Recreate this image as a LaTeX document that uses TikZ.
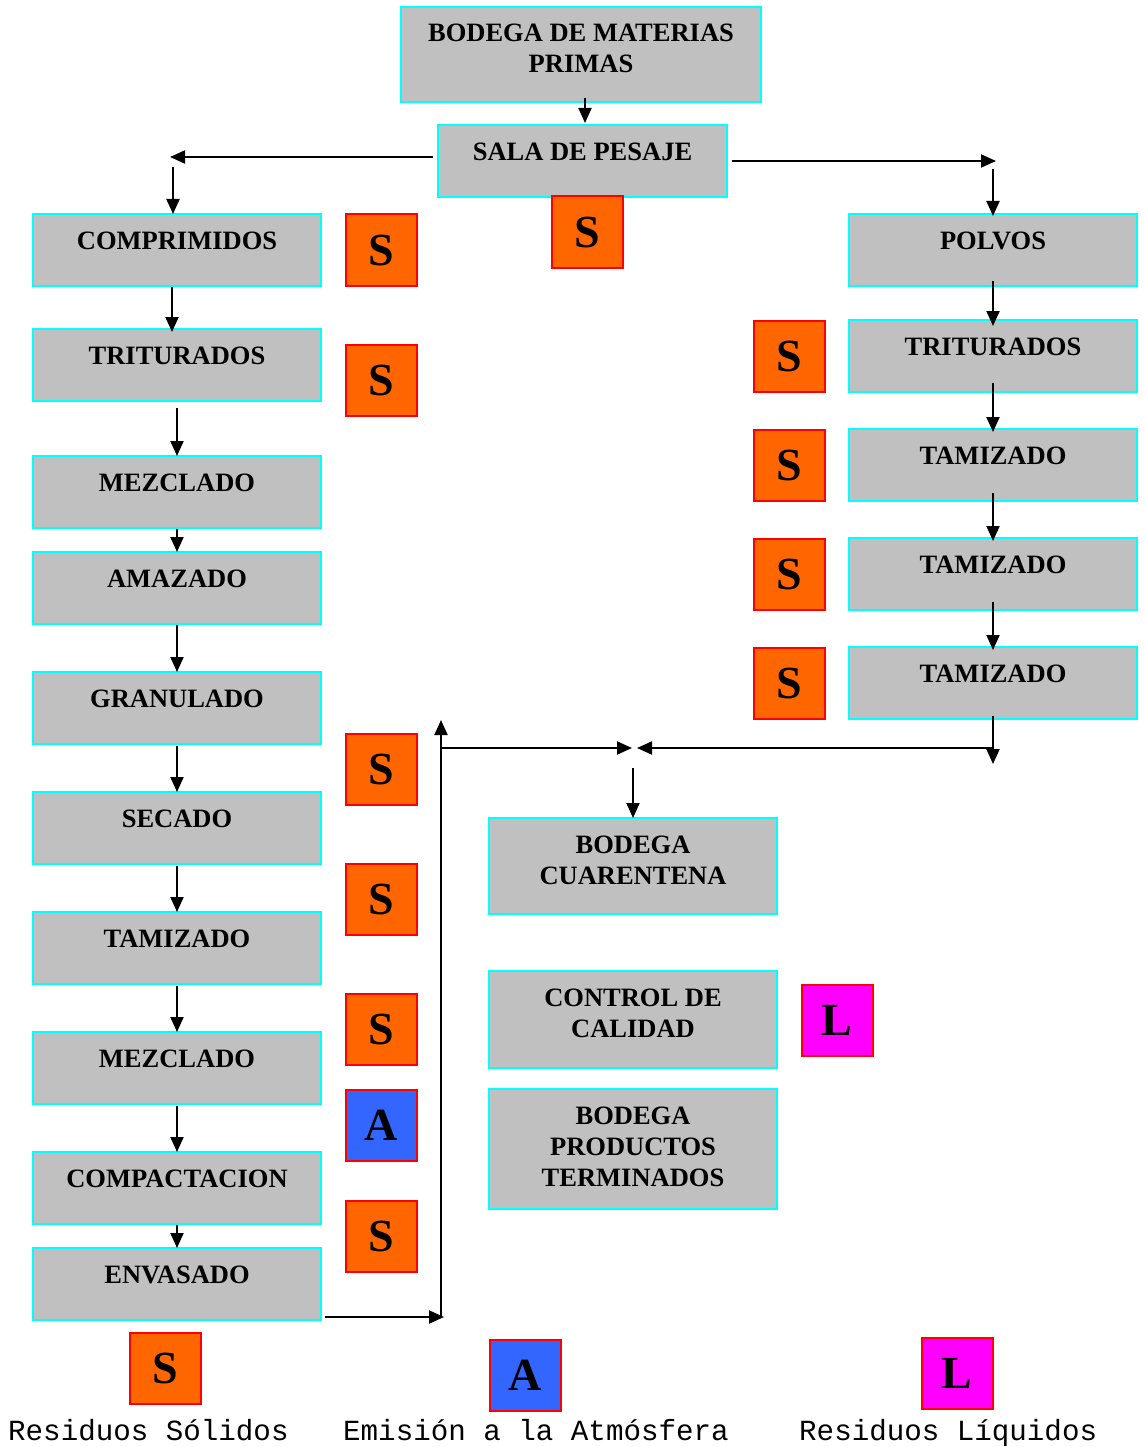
\documentclass[tikz,border=0pt]{standalone}
\usepackage{fontspec}
\setmainfont{Liberation Serif}
\setmonofont{Liberation Mono}
\usetikzlibrary{arrows.meta}

\definecolor{boxgray}{HTML}{C0C0C0}
\definecolor{boxcyan}{HTML}{00FFFF}
\definecolor{solido}{HTML}{FF6600}
\definecolor{aire}{HTML}{3366FF}
\definecolor{liquido}{HTML}{FF00FF}

\tikzset{
  box/.style 2 args={draw=boxcyan, fill=boxgray, line width=2pt,
    minimum width=#1, minimum height=#2, inner sep=0pt, outer sep=0pt,
    anchor=north west},
  btxt/.style={font=\bfseries\fontsize{26.5pt}{31pt}\selectfont,
    align=center, anchor=north, inner sep=0pt},
  tag/.style={draw=red, line width=2pt, fill=#1, minimum size=71pt,
    inner sep=0pt, outer sep=0pt, anchor=north west,
    font=\bfseries\fontsize{46pt}{46pt}\selectfont},
  legtxt/.style={font=\ttfamily\fontsize{29.2pt}{32pt}\selectfont,
    anchor=base west, inner sep=0pt},
  flow/.style={line width=2pt, -{Triangle[length=15pt,width=13pt]}}
}

\begin{document}
\begin{tikzpicture}[x=1pt,y=-1pt]
\useasboundingbox (0,0) rectangle (1144,1447);

% ---- top: raw material store and weighing room
\node[box={360pt}{95pt}] (mat) at (401,7) {};
\node[btxt] (mat-t) at ([yshift=-17pt]mat.north) {BODEGA DE MATERIAS\\PRIMAS};
\node[box={289pt}{72pt}] (sala) at (438,125) {};
\node[btxt] (sala-t) at ([yshift=-18pt]sala.north) {SALA DE PESAJE};

% ---- left line: tablets
\node[box={288pt}{72pt}] (comp)   at (33,214)  {};
\node[box={288pt}{72pt}] (trit)   at (33,329)  {};
\node[box={288pt}{72pt}] (mez1)   at (33,456)  {};
\node[box={288pt}{72pt}] (amaz)   at (33,552)  {};
\node[box={288pt}{72pt}] (gran)   at (33,672)  {};
\node[box={288pt}{72pt}] (sec)    at (33,792)  {};
\node[box={288pt}{72pt}] (tam)    at (33,912)  {};
\node[box={288pt}{72pt}] (mez2)   at (33,1032) {};
\node[box={288pt}{72pt}] (compac) at (33,1152) {};
\node[box={288pt}{72pt}] (env)    at (33,1248) {};
\node[btxt] (comp-t)   at ([yshift=-18pt]comp.north)   {COMPRIMIDOS};
\node[btxt] (trit-t)   at ([yshift=-18pt]trit.north)   {TRITURADOS};
\node[btxt] (mez1-t)   at ([yshift=-18pt]mez1.north)   {MEZCLADO};
\node[btxt] (amaz-t)   at ([yshift=-18pt]amaz.north)   {AMAZADO};
\node[btxt] (gran-t)   at ([yshift=-18pt]gran.north)   {GRANULADO};
\node[btxt] (sec-t)    at ([yshift=-18pt]sec.north)    {SECADO};
\node[btxt] (tam-t)    at ([yshift=-18pt]tam.north)    {TAMIZADO};
\node[btxt] (mez2-t)   at ([yshift=-18pt]mez2.north)   {MEZCLADO};
\node[btxt] (compac-t) at ([yshift=-18pt]compac.north) {COMPACTACION};
\node[btxt] (env-t)    at ([yshift=-18pt]env.north)    {ENVASADO};

% ---- right line: powders
\node[box={288pt}{72pt}] (polv)  at (849,214) {};
\node[box={288pt}{72pt}] (trit2) at (849,320) {};
\node[box={288pt}{72pt}] (tam1)  at (849,429) {};
\node[box={288pt}{72pt}] (tam2)  at (849,538) {};
\node[box={288pt}{72pt}] (tam3)  at (849,647) {};
\node[btxt] (polv-t)  at ([yshift=-18pt]polv.north)  {POLVOS};
\node[btxt] (trit2-t) at ([yshift=-18pt]trit2.north) {TRITURADOS};
\node[btxt] (tam1-t)  at ([yshift=-18pt]tam1.north)  {TAMIZADO};
\node[btxt] (tam2-t)  at ([yshift=-18pt]tam2.north)  {TAMIZADO};
\node[btxt] (tam3-t)  at ([yshift=-18pt]tam3.north)  {TAMIZADO};

% ---- middle: storage and quality control
\node[box={288pt}{96pt}]  (cuar) at (489,818)  {};
\node[box={288pt}{97pt}]  (ctrl) at (489,971)  {};
\node[box={288pt}{120pt}] (term) at (489,1089) {};
\node[btxt] (cuar-t) at ([yshift=-18pt]cuar.north) {BODEGA\\CUARENTENA};
\node[btxt] (ctrl-t) at ([yshift=-18pt]ctrl.north) {CONTROL DE\\CALIDAD};
\node[btxt] (term-t) at ([yshift=-18pt]term.north) {BODEGA\\PRODUCTOS\\TERMINADOS};

% ---- waste tags
\node[tag=solido] (sc1) at (345.5,214.5)  {S};
\node[tag=solido] (sc2) at (345.5,344.5)  {S};
\node[tag=solido] (sc3) at (345.5,733.5)  {S};
\node[tag=solido] (sc4) at (345.5,863.5)  {S};
\node[tag=solido] (sc5) at (345.5,993.5)  {S};
\node[tag=aire]   (ac1) at (345.5,1089.5) {A};
\node[tag=solido] (sc6) at (345.5,1200.5) {S};
\node[tag=solido] (ss)  at (551.5,196.5)  {S};
\node[tag=solido] (sr1) at (753.5,320.5)  {S};
\node[tag=solido] (sr2) at (753.5,429.5)  {S};
\node[tag=solido] (sr3) at (753.5,538.5)  {S};
\node[tag=solido] (sr4) at (753.5,647.5)  {S};
\node[tag=liquido] (lc) at (801.5,984.5)  {L};

% ---- legend
\node[tag=solido]  (lgs) at (129.5,1332.5) {S};
\node[tag=aire]    (lga) at (489.5,1339.5) {A};
\node[tag=liquido] (lgl) at (921.5,1337.5) {L};
\node[legtxt] (lgs-t) at (8,1440)   {Residuos Sólidos};
\node[legtxt] (lga-t) at (343,1440) {Emisión a la Atmósfera};
\node[legtxt] (lgl-t) at (799,1440) {Residuos Líquidos};

% ---- junction points
\coordinate (cl)  at (170,157);
\coordinate (cl2) at (173,167);
\coordinate (cr)  at (996,161);
\coordinate (cr2) at (993,169);
\coordinate (rj)  at (993,764);
\coordinate (rj2) at (993,748);
\coordinate (mj1) at (632,748);
\coordinate (mj2) at (637,748);
\coordinate (mj3) at (633,768);
\coordinate (lj1) at (441,1317);
\coordinate (lj2) at (441,748);
\coordinate (lj3) at (441,720);

% ---- connectors
\draw[flow] ([xshift=4pt,yshift=4pt]mat.south) -- ([xshift=2.5pt,yshift=2pt]sala.north);
\draw[flow] ([xshift=-5pt,yshift=4pt]sala.west) -- (cl);
\draw[flow] (cl2) -- (cl2 |- comp.north);
\draw[flow] ([xshift=5pt]sala.east) -- (cr);
\draw[flow] (cr2) -- ([yshift=-2pt]cr2 |- polv.north);

\draw[flow] ([xshift=-5pt,yshift=-1pt]comp.south) -- ([xshift=-5pt,yshift=-3pt]trit.north);
\draw[flow] ([yshift=-7pt]trit.south) -- (mez1.north);
\draw[flow] ([yshift=-1pt]mez1.south) -- (amaz.north);
\draw[flow] ([yshift=-1pt]amaz.south) -- (gran.north);
\draw[flow] ([yshift=-2pt]gran.south) -- (sec.north);
\draw[flow] ([yshift=-2pt]sec.south) -- (tam.north);
\draw[flow] ([yshift=-2pt]tam.south) -- (mez2.north);
\draw[flow] ([yshift=-2pt]mez2.south) -- (compac.north);
\draw[flow] ([yshift=-1pt]compac.south) -- (env.north);

\draw[flow] ([yshift=5pt]polv.south) -- ([yshift=-6pt]trit2.north);
\draw[flow] ([yshift=9pt]trit2.south) -- ([yshift=-3pt]tam1.north);
\draw[flow] ([yshift=8pt]tam1.south) -- ([yshift=-3pt]tam2.north);
\draw[flow] ([yshift=8pt]tam2.south) -- ([yshift=-3pt]tam3.north);
\draw[flow] ([yshift=3pt]tam3.south) -- (rj);
\draw[flow] (rj2) -- (mj2);

\draw[flow] ([xshift=4pt,yshift=3pt]env.south east) -- ([xshift=3pt]lj1);
\draw[flow] (lj1) -- (lj3);
\draw[flow] (lj2) -- (mj1);
\draw[flow] (mj3) -- (cuar.north);
\end{tikzpicture}
\end{document}
